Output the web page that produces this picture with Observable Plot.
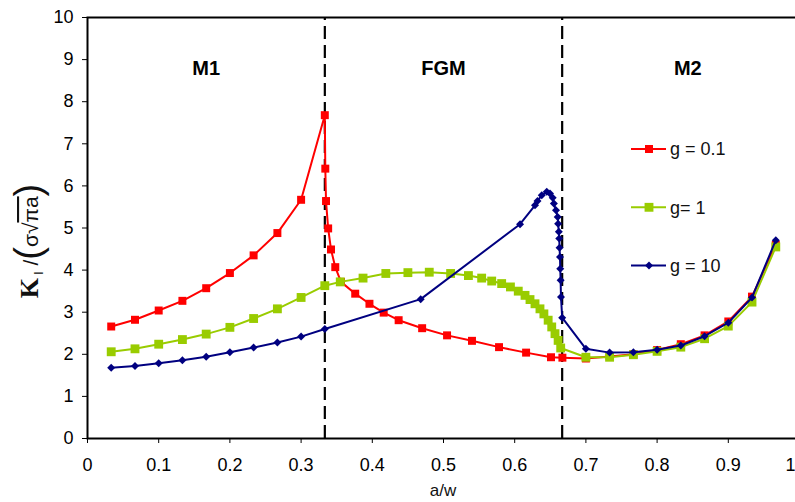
<!DOCTYPE html>
<html><head><meta charset="utf-8">
<script src="https://cdn.jsdelivr.net/npm/d3@7"></script>
<script src="https://cdn.jsdelivr.net/npm/@observablehq/plot@0.6"></script>
<style>html,body{margin:0;padding:0;background:#fff;overflow:hidden;}</style>
</head><body><div id="chart"></div>
<script>
// ---- data ----
const seriesNames = ["g = 0.1", "g= 1", "g = 10"];
const seriesColors = ["#ff0000", "#99cc00", "#000080"];

const xRed = [0.0333,0.0667,0.1,0.1333,0.1667,0.2,0.2333,0.2667,0.3,0.3333,
  0.334,0.335,0.338,0.342,0.348,0.356,0.376,0.396,0.416,0.437,0.47,0.505,0.54,0.578,0.616,0.651,0.667,
  0.7,0.7333,0.7667,0.8,0.8333,0.8667,0.9,0.9333,0.9667];
const yRed = [2.66,2.82,3.04,3.27,3.57,3.93,4.35,4.88,5.67,7.68,
  6.41,5.64,4.99,4.49,4.07,3.72,3.44,3.2,2.99,2.81,2.62,2.45,2.32,2.17,2.04,1.93,1.92,
  1.9,1.95,2.0,2.1,2.24,2.45,2.78,3.37,4.6];

const xGreen = [0.0333,0.0667,0.1,0.1333,0.1667,0.2,0.2333,0.2667,0.3,0.3333,
  0.355,0.387,0.419,0.45,0.48,0.51,0.535,0.5536,0.5677,0.5817,0.594,0.605,0.6145,0.6215,0.6285,0.6355,
  0.641,0.647,0.652,0.6566,0.661,0.6646,
  0.7,0.7333,0.7667,0.8,0.8333,0.8667,0.9,0.9333,0.9667];
const yGreen = [2.06,2.13,2.24,2.35,2.48,2.64,2.85,3.08,3.35,3.63,
  3.72,3.81,3.92,3.94,3.95,3.92,3.87,3.81,3.74,3.68,3.6,3.5,3.4,3.3,3.2,3.08,
  2.96,2.81,2.65,2.49,2.33,2.15,
  1.93,1.93,1.99,2.07,2.17,2.37,2.67,3.24,4.55];

const xBlue = [0.0333,0.0667,0.1,0.1333,0.1667,0.2,0.2333,0.2667,0.3,0.3333,
  0.468,0.6075,0.6285,0.632,0.638,0.645,0.6496,0.6534,0.655,0.658,0.6604,0.661,0.662,0.6626,0.663,
  0.6636,0.664,0.6645,0.665,0.6667,
  0.7,0.7333,0.7667,0.8,0.8333,0.8667,0.9,0.9333,0.9667];
const yBlue = [1.68,1.72,1.79,1.86,1.94,2.05,2.16,2.28,2.42,2.6,
  3.31,5.09,5.54,5.64,5.78,5.86,5.82,5.72,5.58,5.42,5.26,5.1,4.91,4.75,4.53,
  4.31,4.03,3.76,3.36,2.87,
  2.13,2.04,2.05,2.11,2.21,2.43,2.75,3.35,4.71];

const xTicks = [0,0.1,0.2,0.3,0.4,0.5,0.6,0.7,0.8,0.9,1];
const xTickLabels = ["0","0.1","0.2","0.3","0.4","0.5","0.6","0.7","0.8","0.9","1"];
const yTicks = [0,1,2,3,4,5,6,7,8,9,10];
const dividers = [1/3, 2/3];
const regionLabels = ["M1", "FGM", "M2"];
const regionBounds = [0, 1/3, 2/3, 1];
const regionShift = [0, 0, 7];

// ---- build table ----
const xs = [xRed, xGreen, xBlue], ys = [yRed, yGreen, yBlue];
const table = [];
seriesNames.forEach((s, i) => xs[i].forEach((x, j) => table.push({series: s, x, y: ys[i][j]})));

const symbols = ["square", "square", "diamond2"];
const radii = [4.5, 5, 3.6];

const marks = [
  Plot.ruleX(dividers, {y1: 0, y2: 10, stroke: "#000", strokeWidth: 2.2, strokeDasharray: "13,6"}),
  Plot.axisX({ticks: xTicks, tickFormat: (d) => xTickLabels[xTicks.indexOf(d)], tickSize: 5, tickPadding: 15, label: null, fontSize: 18}),
  Plot.axisY({ticks: yTicks, tickSize: 5, tickPadding: 9, label: null, fontSize: 18}),
];
seriesNames.forEach((s, i) => {
  const d = table.filter(r => r.series === s);
  marks.push(Plot.line(d, {x: "x", y: "y", stroke: seriesColors[i], strokeWidth: 2}));
  marks.push(Plot.dot(d, {x: "x", y: "y", symbol: symbols[i], r: radii[i], fill: seriesColors[i], stroke: "none"}));
});
regionLabels.forEach((name, i) => {
  marks.push(Plot.text([name], {x: [(regionBounds[i] + regionBounds[i+1]) / 2], text: (d) => d, frameAnchor: "top",
    dy: 43, dx: regionShift[i], fontSize: 20, fontWeight: "bold", fill: "#000"}));
});
marks.push(Plot.frame({stroke: "#000", strokeWidth: 2}));

const plot = Plot.plot({
  width: 795, height: 502,
  marginLeft: 87, marginRight: -4, marginTop: 17, marginBottom: 64,
  x: {domain: [0, 1]},
  y: {domain: [0, 10]},
  style: {fontFamily: "'Liberation Sans', Arial, sans-serif", fontSize: "18px", background: "#fff", color: "#000", overflow: "visible"},
  marks
});
document.getElementById("chart").appendChild(plot);

// keep the cut "1" label inside the picture
d3.select(plot).selectAll("text").filter(function() { return this.textContent === "1" && this.closest("[aria-label='x-axis tick label']"); })
  .attr("text-anchor", "end").attr("dx", 0).attr("x", 795 - 799 + 0);

// ---- legend, axis titles ----
const svg = d3.select(plot);
const lg = svg.append("g").attr("font-family", "'Liberation Sans', Arial, sans-serif").attr("font-size", 18).attr("text-anchor", "start");
const symMap = {square: d3.symbolSquare, diamond2: d3.symbolDiamond2};
seriesNames.forEach((s, i) => {
  const yy = 149 + i * 58.3;
  lg.append("line").attr("x1", 631).attr("x2", 666).attr("y1", yy).attr("y2", yy)
    .attr("stroke", seriesColors[i]).attr("stroke-width", 2);
  lg.append("path").attr("transform", `translate(649,${yy})`)
    .attr("d", d3.symbol(symMap[symbols[i]], Math.PI * radii[i] * radii[i])())
    .attr("fill", seriesColors[i]);
  lg.append("text").attr("x", 670).attr("y", yy).attr("dy", "0.35em").attr("text-anchor", "start").attr("fill", "#111").text(s);
});

svg.append("text").attr("x", 443).attr("y", 496).attr("text-anchor", "middle")
  .attr("font-family", "'Liberation Sans', Arial, sans-serif").attr("font-size", 17).attr("fill", "#111").text("a/w");

const yl = svg.append("text").attr("transform", "translate(38,241) rotate(-90)")
  .attr("text-anchor", "middle").attr("fill", "#111")
  .attr("font-family", "'Liberation Sans', Arial, sans-serif").attr("font-size", 21);
yl.append("tspan").attr("font-family", "'Liberation Serif', 'Times New Roman', serif").attr("font-weight", "bold").attr("font-size", 26).text("K");
yl.append("tspan").attr("font-size", 12).attr("dy", 5).text(" I");
yl.append("tspan").attr("dy", -5).text(" /");
yl.append("tspan").attr("font-size", 38).attr("font-weight", 300).attr("dy", 3).text("(");
yl.append("tspan").attr("dy", -3).text("σ√");
yl.append("tspan").attr("text-decoration", "overline").text("πa");
yl.append("tspan").attr("font-size", 38).attr("font-weight", 300).attr("dy", 3).text(")");
</script></body></html>
